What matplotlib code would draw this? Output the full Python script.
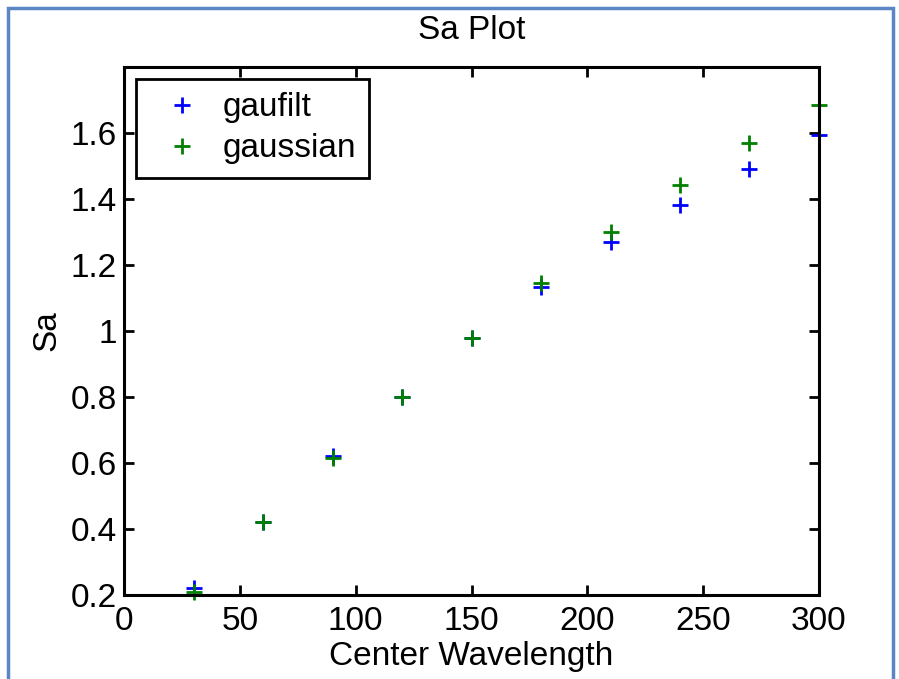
import numpy as np
import matplotlib
matplotlib.use("Agg")
import matplotlib.pyplot as plt
from matplotlib.patches import Rectangle

plt.rcParams['font.family'] = ['Liberation Sans', 'DejaVu Sans']

# center wavelengths and Sa values
wavelength = [30, 60, 90, 120, 150, 180, 210, 240, 270, 300]
sa_gaufilt = [0.22, 0.42, 0.62, 0.80, 0.98, 1.133, 1.27, 1.382, 1.49, 1.594]
sa_gaussian = [0.21, 0.42, 0.615, 0.80, 0.98, 1.145, 1.30, 1.442, 1.57, 1.685]

fig = plt.figure(figsize=(8.99, 6.79), dpi=100)
ax = fig.add_axes([0.138, 0.124, 0.773, 0.777])

ax.plot(wavelength, sa_gaufilt, '+', color='#0000ff', markersize=11,
        markeredgewidth=2, label='gaufilt', clip_on=False)
ax.plot(wavelength, sa_gaussian, '+', color='#008000', markersize=11,
        markeredgewidth=2, label='gaussian', clip_on=False)

ax.set_xlim(0, 300)
ax.set_ylim(0.2, 1.8)
ax.set_xticks([0, 50, 100, 150, 200, 250, 300])
ax.set_yticks([0.2, 0.4, 0.6, 0.8, 1.0, 1.2, 1.4, 1.6])
ax.set_yticklabels(['0.2', '0.4', '0.6', '0.8', '1', '1.2', '1.4', '1.6'])

ax.tick_params(direction='in', length=7, width=2, labelsize=24,
               top=True, right=True, pad=5)
ax.tick_params(axis='x', pad=8)
for s in ax.spines.values():
    s.set_linewidth(2.2)

ax.set_title('Sa Plot', fontsize=24, pad=20)
ax.set_xlabel('Center Wavelength', fontsize=24, labelpad=3)
ax.set_ylabel('Sa', fontsize=24, labelpad=6)

leg = ax.legend(loc='upper left', fontsize=24, frameon=True, fancybox=False,
                borderaxespad=0.35, handletextpad=0.2, handlelength=2.0,
                borderpad=0.4, labelspacing=0.3)
leg.get_frame().set_edgecolor('black')
leg.get_frame().set_linewidth(2)
leg.get_frame().set_alpha(1)

# light blue border around the whole figure
fig.patches.append(Rectangle((8 / 899, -0.05), 885 / 899, 1.05 - 8 / 679,
                             transform=fig.transFigure, fill=False,
                             edgecolor='#5a86c6', linewidth=2.5))

fig.savefig('out.png', dpi=100)
